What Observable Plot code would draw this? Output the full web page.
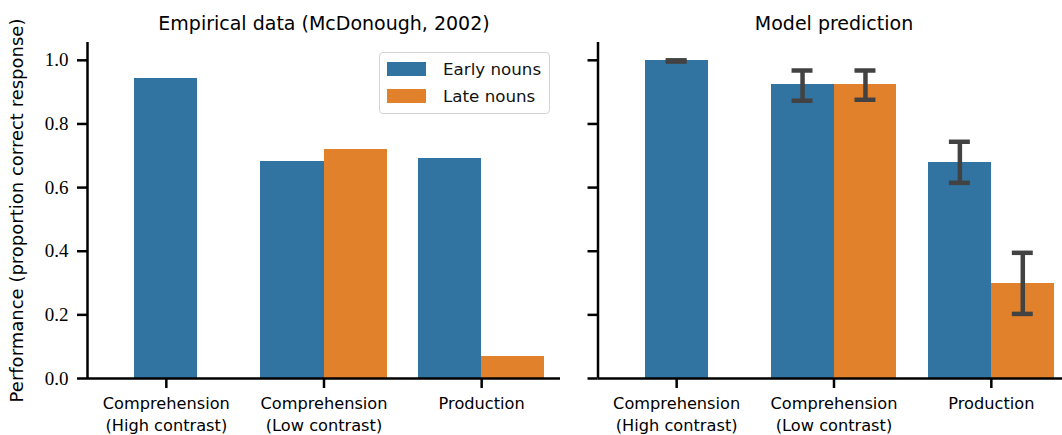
<!DOCTYPE html>
<html>
<head>
<meta charset="utf-8">
<script src="https://cdn.jsdelivr.net/npm/d3@7"></script>
<script src="https://cdn.jsdelivr.net/npm/@observablehq/plot@0.6"></script>
<style>
  html, body { margin: 0; padding: 0; background: white; }
  #chart { position: relative; width: 1062px; height: 435px; overflow: hidden; background: white; }
  #chart > svg { position: absolute; top: 0; }
  .legend { position: absolute; left: 379px; top: 52px; width: 169px; height: 60px; border: 1px solid #d4d4d4; border-radius: 4px; background: rgba(255,255,255,0.8); font-family: "DejaVu Sans", sans-serif; font-size: 16.7px; color: #111; }
  .legend .row { position: absolute; left: 7px; height: 14px; }
  .legend .sw { position: absolute; left: 0; top: 0; width: 39px; height: 14px; }
  .legend .lb { position: absolute; left: 56px; top: -3px; white-space: nowrap; line-height: 20px; }
</style>
</head>
<body>
<div id="chart"></div>
<script>
// ---- data ----
const categories = ["Comprehension\n(High contrast)", "Comprehension\n(Low contrast)", "Production"];
const series = ["Early nouns", "Late nouns"];
const colors = ["#3274a1", "#e1812c"];

const empiricalTitle = "Empirical data (McDonough, 2002)";
const empiricalEarly = [0.943, 0.682, 0.692];
const empiricalLate  = [null, 0.720, 0.070];

const modelTitle = "Model prediction";
const modelEarly     = [1.000, 0.925, 0.679];
const modelEarlyLow  = [0.996, 0.873, 0.615];
const modelEarlyHigh = [1.000, 0.968, 0.744];
const modelLate      = [null, 0.925, 0.299];
const modelLateLow   = [null, 0.876, 0.203];
const modelLateHigh  = [null, 0.968, 0.395];

const yTicks = [0, 0.2, 0.4, 0.6, 0.8, 1.0];
const yLabel = "Performance (proportion correct response)";

// ---- helpers ----
const barWidth = 0.4;
const capFrac = 0.333;

function buildRows(early, late, earlyLo, earlyHi, lateLo, lateHi) {
  const rows = [];
  categories.forEach((c, i) => {
    const both = early[i] != null && late[i] != null;
    const vals = [early[i], late[i]];
    const los = [earlyLo ? earlyLo[i] : null, lateLo ? lateLo[i] : null];
    const his = [earlyHi ? earlyHi[i] : null, lateHi ? lateHi[i] : null];
    vals.forEach((v, s) => {
      if (v == null) return;
      const pos = both ? i + (s === 0 ? -barWidth / 2 : barWidth / 2) : i;
      rows.push({category: c, series: series[s], value: v, pos, lo: los[s], hi: his[s]});
    });
  });
  return rows;
}

const sans = "DejaVu Sans";
const serif = "Liberation Serif";

function panel({rows, title, showLabels, width, marginLeft, marginRight}) {
  const errs = rows.filter(d => d.lo != null);
  const capHalf = barWidth * capFrac / 2;
  const marks = [
    Plot.rect(rows, {x1: d => d.pos - barWidth / 2, x2: d => d.pos + barWidth / 2, y1: 0, y2: "value", fill: "series", shapeRendering: "crispEdges"}),
    Plot.ruleX(errs, {x: "pos", y1: "lo", y2: "hi", stroke: "#424242", strokeWidth: 4.5}),
    Plot.ruleY(errs, {y: "lo", x1: d => d.pos - capHalf, x2: d => d.pos + capHalf, stroke: "#424242", strokeWidth: 4.5}),
    Plot.ruleY(errs, {y: "hi", x1: d => d.pos - capHalf, x2: d => d.pos + capHalf, stroke: "#424242", strokeWidth: 4.5}),
    Plot.ruleY([0], {stroke: "black", strokeWidth: 2.5}),
    Plot.ruleX([-0.5], {stroke: "black", strokeWidth: 2.5}),
    Plot.axisY({ticks: yTicks, tickFormat: showLabels ? d3.format(".1f") : () => "", tickSize: 10, tickPadding: 9, strokeWidth: 2.5, fontFamily: serif, fontSize: 19, label: null}),
    Plot.axisX({ticks: [0, 1, 2], tickFormat: i => categories[i], tickSize: 10, tickPadding: 6, strokeWidth: 2.5, lineHeight: 1.3, fontFamily: sans, fontSize: 16.2, label: null}),
    Plot.text([title], {frameAnchor: "top", dy: -13, lineAnchor: "bottom", fontSize: 19, fontFamily: sans})
  ];
  if (showLabels) {
    marks.push(Plot.text([yLabel], {frameAnchor: "left", rotate: -90, dx: -77, textAnchor: "middle", lineAnchor: "top", fontSize: 18, fontFamily: sans}));
  }
  return Plot.plot({
    width, height: 435,
    marginLeft, marginRight, marginTop: 42, marginBottom: 57,
    x: {domain: [-0.5, 2.5], axis: null},
    y: {domain: [0, 1.056], axis: null},
    color: {domain: series, range: colors},
    style: {fontFamily: sans, fontSize: "16px", color: "black", background: "transparent", overflow: "visible"},
    marks
  });
}

const chart = document.getElementById("chart");

const left = panel({
  rows: buildRows(empiricalEarly, empiricalLate),
  title: empiricalTitle, showLabels: true,
  width: 570, marginLeft: 87, marginRight: 10
});
left.style.left = "0px";
chart.appendChild(left);

const right = panel({
  rows: buildRows(modelEarly, modelLate, modelEarlyLow, modelEarlyHigh, modelLateLow, modelLateHigh),
  title: modelTitle, showLabels: false,
  width: 520, marginLeft: 37.5, marginRight: 10.5
});
right.style.left = "560px";
chart.appendChild(right);

// legend
const legend = document.createElement("div");
legend.className = "legend";
series.forEach((s, i) => {
  const row = document.createElement("div");
  row.className = "row";
  row.style.top = (9 + i * 27) + "px";
  const sw = document.createElement("div");
  sw.className = "sw";
  sw.style.background = colors[i];
  const lb = document.createElement("div");
  lb.className = "lb";
  lb.textContent = s;
  row.appendChild(sw);
  row.appendChild(lb);
  legend.appendChild(row);
});
chart.appendChild(legend);
</script>
</body>
</html>
